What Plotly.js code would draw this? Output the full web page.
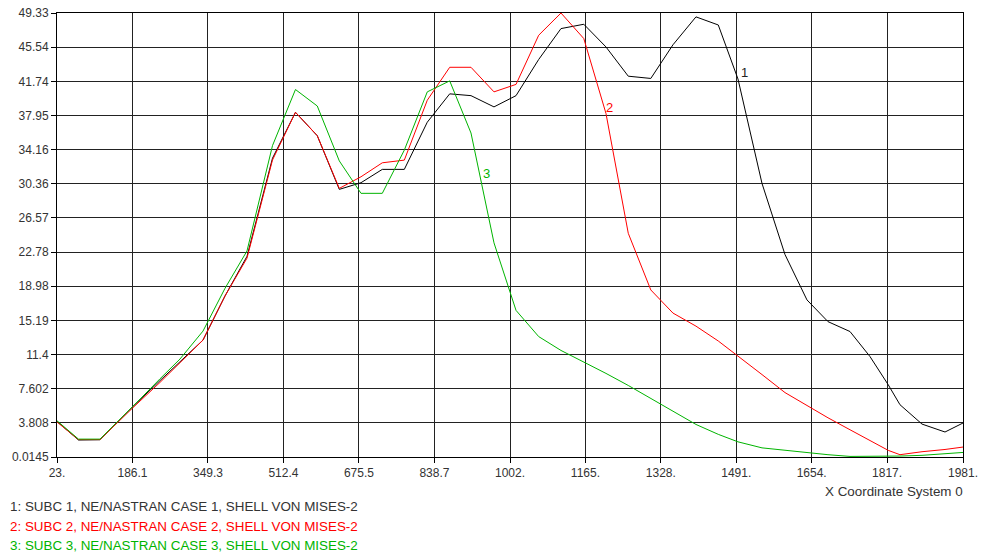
<!DOCTYPE html>
<html>
<head>
<meta charset="utf-8">
<script src="https://cdn.plot.ly/plotly-3.0.1.min.js"></script>
<style>
  html, body { margin: 0; padding: 0; background: #fff; }
  #chart { width: 982px; height: 552px; }
</style>
</head>
<body>
<div id="chart"></div>
<script>
// X coordinate of the nodes (shared by the three cases)
const xCoord = [23, 69.5, 115.9, 154.8, 187.2, 245.6, 288.8, 338.5, 386.1, 433.6,
  488.7, 538.4, 585.5, 633.1, 680.0, 726.0, 773.6, 823.2, 871.7, 917.7,
  967.4, 1015.0, 1064.0, 1112.2, 1161.5, 1209.4, 1257.6, 1306.3, 1354.2, 1403.9,
  1452.1, 1494.7, 1546.6, 1596.3, 1643.8, 1689.2, 1736.8, 1780.0, 1819.5, 1844.8,
  1892.4, 1942.1, 1981];

// Case 1 (black)
const case1 = [3.96, 1.9, 1.93, 3.96, 5.63, 8.5, 10.6, 13.0, 17.9, 22.3,
  33.2, 38.3, 35.7, 29.74, 30.48, 31.96, 31.96, 37.2, 40.35, 40.15,
  38.9, 40.15, 44.17, 47.6, 48.08, 45.56, 42.31, 42.06, 45.8, 48.9,
  48.0, 42.0, 30.4, 22.5, 17.46, 15.05, 13.95, 11.17, 8.03, 5.82,
  3.67, 2.79, 3.79];

// Case 2 (red)
const case2 = [3.9, 1.95, 1.95, 3.9, 5.5, 8.3, 10.5, 13.0, 17.9, 22.1,
  33.0, 38.3, 35.7, 29.85, 31.14, 32.69, 32.99, 39.64, 43.3, 43.3,
  40.57, 41.4, 46.86, 49.33, 46.49, 38.17, 24.86, 18.57, 16.0, 14.55,
  12.9, 11.25, 9.17, 7.17, 5.69, 4.37, 3.04, 1.84, 0.75, 0.27,
  0.6, 0.85, 1.12];

// Case 3 (green)
const case3 = [4.04, 2.0, 2.0, 3.96, 5.65, 8.7, 10.9, 14.0, 18.75, 22.9,
  34.6, 40.83, 39.0, 32.9, 29.3, 29.3, 34.1, 40.57, 41.79, 36.0,
  23.8, 16.3, 13.39, 11.85, 10.6, 9.3, 7.96, 6.5, 5.05, 3.63,
  2.53, 1.7, 1.03, 0.74, 0.48, 0.27, 0.08, 0.08, 0.08, 0.12,
  0.2, 0.35, 0.52];

const xTicks = [23, 186.1, 349.3, 512.4, 675.5, 838.7, 1002, 1165, 1328, 1491, 1654, 1817, 1981];
const xTickText = ['23.', '186.1', '349.3', '512.4', '675.5', '838.7', '1002.', '1165.', '1328.', '1491.', '1654.', '1817.', '1981.'];
const yTicks = [0.0145, 3.808, 7.602, 11.4, 15.19, 18.98, 22.78, 26.57, 30.36, 34.16, 37.95, 41.74, 45.54, 49.33];
const yTickText = ['0.0145', '3.808', '7.602', '11.4', '15.19', '18.98', '22.78', '26.57', '30.36', '34.16', '37.95', '41.74', '45.54', '49.33'];

const seriesNames = [
  '1: SUBC 1, NE/NASTRAN CASE 1, SHELL VON MISES-2',
  '2: SUBC 2, NE/NASTRAN CASE 2, SHELL VON MISES-2',
  '3: SUBC 3, NE/NASTRAN CASE 3, SHELL VON MISES-2'
];
const seriesColors = ['#000000', '#ff0000', '#00b400'];
const legendColors = ['#333333', '#ff0000', '#00b400'];
const curveLabels = ['1', '2', '3'];
const labelX = [1509.8, 1218, 952];
const labelY = [42.75, 38.87, 31.55];

const font = 'Liberation Sans, Arial, sans-serif';

const traces = [case1, case2, case3].map((ys, i) => ({
  x: xCoord, y: ys, type: 'scatter', mode: 'lines',
  line: { color: seriesColors[i], width: 1 },
  name: seriesNames[i], hoverinfo: 'skip'
}));

const annotations = [];
curveLabels.forEach((t, i) => {
  annotations.push({ x: labelX[i], y: labelY[i], xref: 'x', yref: 'y', text: t, showarrow: false,
    font: { family: font, size: 13, color: seriesColors[i] === '#000000' ? '#222' : seriesColors[i] } });
});
seriesNames.forEach((t, i) => {
  annotations.push({ x: -0.0545, y: [-0.1118, -0.1568, -0.1995][i], xref: 'paper', yref: 'paper',
    xanchor: 'left', yanchor: 'middle', text: t, showarrow: false,
    font: { family: font, size: 13.4, color: legendColors[i] } });
});
annotations.push({ x: 1.002, y: -0.078, xref: 'paper', yref: 'paper', xanchor: 'right', yanchor: 'middle',
  text: 'X Coordinate System 0', showarrow: false, font: { family: font, size: 13.4, color: '#333' } });

const layout = {
  width: 982, height: 552,
  margin: { l: 57, r: 19, t: 13, b: 95, pad: 0 },
  paper_bgcolor: '#ffffff', plot_bgcolor: '#ffffff',
  showlegend: false,
  font: { family: font, size: 12, color: '#333' },
  xaxis: {
    range: [23, 1981], tickmode: 'array', tickvals: xTicks, ticktext: xTickText,
    showgrid: true, gridcolor: '#222', gridwidth: 1, zeroline: false,
    showline: true, linecolor: '#000', linewidth: 1, mirror: true,
    ticks: 'outside', ticklen: 5, tickcolor: '#000',
    tickfont: { family: font, size: 12, color: '#333' }
  },
  yaxis: {
    range: [0.0145, 49.33], tickmode: 'array', tickvals: yTicks, ticktext: yTickText,
    showgrid: true, gridcolor: '#222', gridwidth: 1, zeroline: false,
    showline: true, linecolor: '#000', linewidth: 1, mirror: true,
    ticks: 'outside', ticklen: 5, tickcolor: '#000',
    tickfont: { family: font, size: 12, color: '#333' }
  },
  annotations: annotations
};

Plotly.newPlot('chart', traces, layout, { staticPlot: true, displayModeBar: false });
</script>
</body>
</html>
